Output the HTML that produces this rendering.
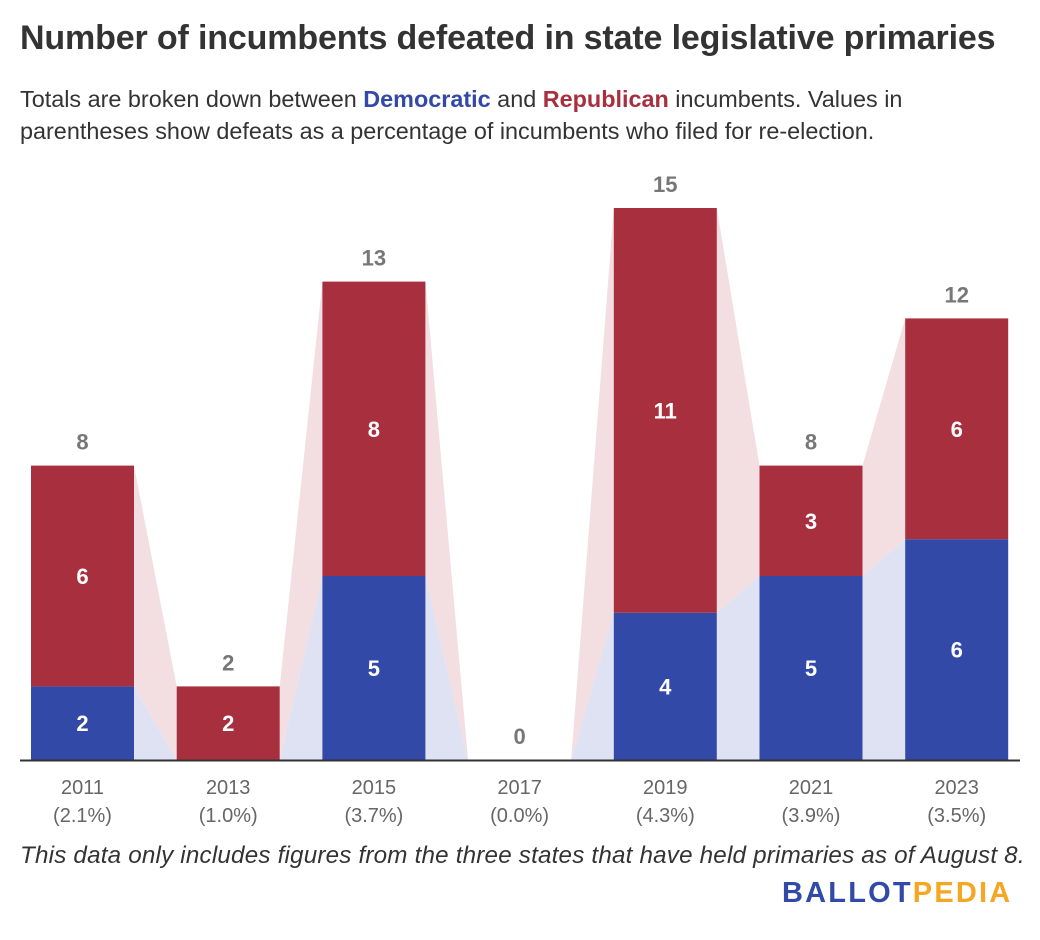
<!DOCTYPE html>
<html><head><meta charset="utf-8"><style>
body{margin:0;width:1040px;height:940px;background:#fff;font-family:"Liberation Sans",sans-serif;overflow:hidden;position:relative}
h1{position:absolute;left:20px;top:19px;margin:0;font-size:34px;font-weight:bold;color:#333;letter-spacing:-0.15px;white-space:nowrap}
.sub{position:absolute;left:20px;top:83px;font-size:23.4px;line-height:32px;color:#333;width:920px}
.foot{position:absolute;left:20px;top:842px;font-size:24.2px;font-style:italic;color:#333;white-space:nowrap;letter-spacing:0.2px}
.logo{position:absolute;left:782px;top:877px;font-size:29px;font-weight:bold;letter-spacing:2.2px}
</style></head><body>
<h1>Number of incumbents defeated in state legislative primaries</h1>
<div class="sub">Totals are broken down between <b style="color:#3349a8">Democratic</b> and <b style="color:#a8303e">Republican</b> incumbents. Values in parentheses show defeats as a percentage of incumbents who filed for re-election.</div>
<svg id="chart" width="1040" height="840" style="position:absolute;left:0;top:0" font-family="Liberation Sans, sans-serif"></svg>
<div class="foot">This data only includes figures from the three states that have held primaries as of August 8.</div>
<div class="logo"><span style="color:#3349a8">BALLOT</span><span style="color:#f5a623">PEDIA</span></div>
<script>
const years=["2011","2013","2015","2017","2019","2021","2023"];
const pcts=["(2.1%)","(1.0%)","(3.7%)","(0.0%)","(4.3%)","(3.9%)","(3.5%)"];
const dem=[2,0,5,0,4,5,6];
const rep=[6,2,8,0,11,3,6];
const svg=document.getElementById('chart');
const NS='http://www.w3.org/2000/svg';
const base=760,unit=36.8,x0=31,step=145.7,bw=103;
const y=v=>base-v*unit;
const xl=i=>x0+i*step;
function mk(t,a){const e=document.createElementNS(NS,t);for(const k in a)e.setAttribute(k,a[k]);svg.appendChild(e);return e;}
for(let i=0;i<years.length-1;i++){
  const r=xl(i)+bw,l=xl(i+1);
  const p1=mk('polygon',{points:`${r},${base} ${r},${y(dem[i])} ${l},${y(dem[i+1])} ${l},${base}`,fill:'#dfe2f2'});
  
  
  const p2=mk('polygon',{points:`${r},${y(dem[i])} ${r},${y(dem[i]+rep[i])} ${l},${y(dem[i+1]+rep[i+1])} ${l},${y(dem[i+1])}`,fill:'#f3dfe1'});
  
  
}
years.forEach((yr,i)=>{
  const x=xl(i),cx=x+bw/2,tot=dem[i]+rep[i];
  if(dem[i]>0){
    const b=mk('rect',{x:x,y:y(dem[i]),width:bw,height:dem[i]*unit,fill:'#3349a8'});
    
    
    const t=mk('text',{x:cx,y:(y(dem[i])+base)/2+8,'text-anchor':'middle','font-size':22,'font-weight':'bold',fill:'#fff'});t.textContent=dem[i];
    
    
  }
  if(rep[i]>0){
    const b=mk('rect',{x:x,y:y(tot),width:bw,height:rep[i]*unit,fill:'#a8303e'});
    
    
    const t=mk('text',{x:cx,y:(y(tot)+y(dem[i]))/2+8,'text-anchor':'middle','font-size':22,'font-weight':'bold',fill:'#fff'});t.textContent=rep[i];
    
    
  }
  const tt=mk('text',{x:cx,y:y(tot)-16,'text-anchor':'middle','font-size':22,'font-weight':'bold',fill:'#777'});tt.textContent=tot;
  
  
  const xt=mk('text',{x:cx,y:794,'text-anchor':'middle','font-size':20,fill:'#666'});xt.textContent=yr;
  
  
  const pt=mk('text',{x:cx,y:822,'text-anchor':'middle','font-size':20,fill:'#666'});pt.textContent=pcts[i];
  
  
});
const ax=mk('line',{x1:20,x2:1020,y1:base+0.5,y2:base+0.5,stroke:'#333','stroke-width':2});


</script>
</body></html>
